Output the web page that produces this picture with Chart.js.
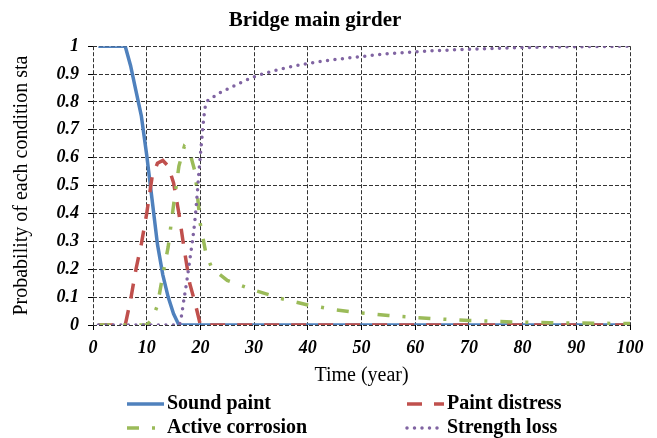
<!DOCTYPE html>
<html>
<head>
<meta charset="utf-8">
<script src="https://cdn.jsdelivr.net/npm/chart.js@4.4.1/dist/chart.umd.min.js"></script>
<style>
  body { margin: 0; background: #fff; }
  #wrap { width: 657px; height: 438px; position: relative; }
</style>
</head>
<body>
<div id="wrap"><canvas id="girderChart"></canvas></div>
<script>
// Datos
const years = [1, 2, 3, 4, 5, 6, 7, 8, 9, 10, 11, 12, 13, 14, 15, 16, 17, 18, 19, 20,
    21, 22, 23, 24, 25, 30, 35, 40, 45, 50, 55, 60, 65, 70, 75, 80, 85, 90, 95, 100];

const soundPaint = [1, 1, 1, 1, 1, 1, 0.93, 0.84, 0.75, 0.61, 0.45, 0.29, 0.18, 0.10, 0.04, 0, 0, 0, 0, 0,
    0, 0, 0, 0, 0, 0, 0, 0, 0, 0, 0, 0, 0, 0, 0, 0, 0, 0, 0, 0];

const paintDistress = [0, 0, 0, 0, 0, 0, 0.09, 0.20, 0.29, 0.40, 0.53, 0.58, 0.59, 0.57, 0.51, 0.40, 0.27, 0.15, 0.08, 0,
    0, 0, 0, 0, 0, 0, 0, 0, 0, 0, 0, 0, 0, 0, 0, 0, 0, 0, 0, 0];

const activeCorrosion = [0, 0, 0, 0, 0, 0, 0, 0, 0, 0, 0.02, 0.07, 0.18, 0.28, 0.43, 0.57, 0.64, 0.62, 0.55, 0.36,
    0.26, 0.21, 0.19, 0.175, 0.16, 0.125, 0.095, 0.072, 0.055, 0.043, 0.034, 0.027, 0.021, 0.016, 0.013, 0.010, 0.008, 0.007, 0.006, 0.005];

const strengthLoss = [0, 0, 0, 0, 0, 0, 0, 0, 0, 0, 0, 0, 0, 0, 0, 0, 0.10, 0.23, 0.38, 0.61,
    0.79, 0.812, 0.826, 0.837, 0.846, 0.89, 0.918, 0.938, 0.952, 0.963, 0.973, 0.98, 0.985, 0.989, 0.992, 0.995, 0.997, 0.998, 0.999, 1];

const xTicks = [0, 10, 20, 30, 40, 50, 60, 70, 80, 90, 100];
const yTicks = [0, 0.1, 0.2, 0.3, 0.4, 0.5, 0.6, 0.7, 0.8, 0.9, 1];

function toPoints(values) {
    return years.map((t, i) => ({ x: t, y: values[i] }));
}

Chart.defaults.font.family = '"Liberation Serif", "Times New Roman", serif';
Chart.defaults.color = '#000';

// Leyenda en dos columnas
const legendGrid = {
    id: 'legendGrid',
    afterDraw(chart) {
        const ctx = chart.ctx;
        const area = chart.chartArea;
        chart.data.datasets.forEach((ds, i) => {
            const col = i % 2;
            const row = Math.floor(i / 2);
            const x0 = area.left + 34 + col * 280;
            const y = area.bottom + 79 + row * 24;
            ctx.save();
            ctx.strokeStyle = ds.borderColor;
            ctx.lineWidth = ds.borderWidth;
            ctx.lineCap = ds.borderCapStyle || 'butt';
            ctx.setLineDash(ds.borderDash || []);
            ctx.beginPath();
            ctx.moveTo(x0, y);
            ctx.lineTo(x0 + 37, y);
            ctx.stroke();
            ctx.setLineDash([]);
            ctx.fillStyle = '#000';
            ctx.font = 'bold 20px "Liberation Serif"';
            ctx.textBaseline = 'middle';
            ctx.fillText(ds.label, x0 + 40, y);
            ctx.restore();
        });
    }
};

const tickFont = { size: 18, style: 'italic', weight: 'bold' };

const ctx = document.getElementById('girderChart').getContext('2d');
const girderChart = new Chart(ctx, {
    type: 'line',
    data: {
        datasets: [
            {
                label: 'Sound paint',
                data: toPoints(soundPaint),
                borderColor: '#4F81BD',
                borderWidth: 3.5,
                order: 4
            },
            {
                label: 'Paint distress',
                data: toPoints(paintDistress),
                borderColor: '#C0504D',
                borderWidth: 3.5,
                borderDash: [15, 12],
                order: 3
            },
            {
                label: 'Active corrosion',
                data: toPoints(activeCorrosion),
                borderColor: '#9BBB59',
                borderWidth: 3.5,
                borderDash: [12, 13, 3, 13],
                order: 2
            },
            {
                label: 'Strength loss',
                data: toPoints(strengthLoss),
                borderColor: '#8064A2',
                borderWidth: 3.5,
                borderDash: [0, 7.5],
                borderCapStyle: 'round',
                cubicInterpolationMode: 'monotone',
                order: 1
            }
        ]
    },
    options: {
        responsive: true,
        maintainAspectRatio: false,
        animation: false,
        layout: { padding: { top: 0, right: 27, bottom: 46, left: 0 } },
        elements: {
            point: { radius: 0 },
            line: { tension: 0, fill: false }
        },
        scales: {
            x: {
                type: 'linear',
                min: 0,
                max: 100,
                afterBuildTicks: scale => { scale.ticks = xTicks.map(v => ({ value: v })); },
                afterFit: scale => { scale.height = 67; },
                ticks: { font: tickFont, padding: 8, maxRotation: 0 },
                grid: { color: '#333', lineWidth: 1, tickLength: 5, tickColor: '#000' },
                border: { display: false, dash: [4, 2] },
                title: { display: true, text: 'Time (year)', font: { size: 20 }, padding: { top: 4, bottom: 4 } }
            },
            y: {
                min: 0,
                max: 1,
                afterBuildTicks: scale => { scale.ticks = yTicks.map(v => ({ value: v })); },
                afterFit: scale => { scale.width = 93; },
                ticks: {
                    font: tickFont,
                    padding: 9,
                    callback: value => String(+value.toFixed(1))
                },
                grid: { color: '#333', lineWidth: 1, tickLength: 5, tickColor: '#000' },
                border: { display: false, dash: [4, 2] },
                title: { display: true, text: 'Probability of each condition sta', font: { size: 20 }, padding: { top: 10, bottom: 4 } }
            }
        },
        plugins: {
            legend: { display: false },
            tooltip: { enabled: false },
            title: {
                display: true,
                text: 'Bridge main girder',
                font: { size: 21, weight: 'bold' },
                color: '#000',
                padding: { top: 8, bottom: 13 }
            }
        }
    },
    plugins: [legendGrid]
});
</script>
</body>
</html>
